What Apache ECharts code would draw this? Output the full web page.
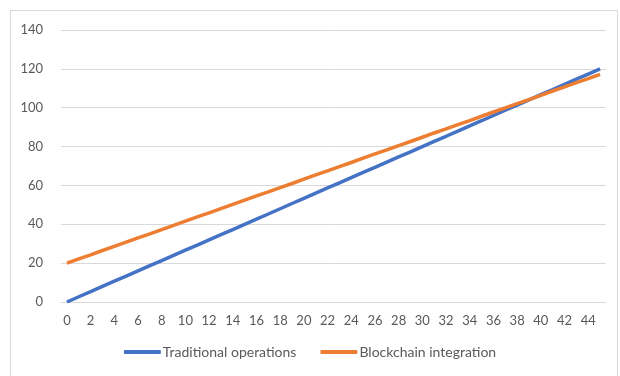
<!DOCTYPE html>
<html>
<head>
<meta charset="utf-8">
<script src="https://cdn.jsdelivr.net/npm/echarts@6/dist/echarts.min.js"></script>
<style>
  html, body { margin: 0; padding: 0; background: #fff; }
  #chart { width: 620px; height: 376px; }
</style>
</head>
<body>
<div id="chart"></div>
<script>
const categories = []
for (let i = 0; i <= 45; i++) categories.push(String(i))

const traditional = [
  0, 2.7, 5.3, 8, 10.7, 13.3, 16, 18.7, 21.3, 24,
  26.7, 29.3, 32, 34.7, 37.3, 40, 42.7, 45.3, 48, 50.7,
  53.3, 56, 58.7, 61.3, 64, 66.7, 69.3, 72, 74.7, 77.3,
  80, 82.7, 85.3, 88, 90.7, 93.3, 96, 98.7, 101.3, 104,
  106.7, 109.3, 112, 114.7, 117.3, 120,
]

const blockchain = [
  20, 22.2, 24.3, 26.5, 28.6, 30.8, 33, 35.1, 37.3, 39.4,
  41.6, 43.8, 45.9, 48.1, 50.2, 52.4, 54.6, 56.7, 58.9, 61,
  63.2, 65.4, 67.5, 69.7, 71.8, 74, 76.2, 78.3, 80.5, 82.6,
  84.8, 87, 89.1, 91.3, 93.4, 95.6, 97.8, 99.9, 102.1, 104.2,
  106.4, 108.6, 110.7, 112.9, 115, 117.2,
]

const FONT = 'Lato, "Open Sans", sans-serif'
const BLUE = '#4472c4'
const ORANGE = '#ed7d31'

const chart = echarts.init(document.getElementById('chart'))
chart.setOption({
  animation: false,
  textStyle: { fontFamily: FONT },
  graphic: [
    {
      type: 'rect',
      shape: { x: 10.5, y: 10.5, width: 607, height: 380 },
      style: { fill: 'none', stroke: '#d9d9d9', lineWidth: 1 },
      silent: true,
    },
  ],
  grid: { left: 61, right: 14, top: 30, bottom: 74 },
  legend: {
    bottom: 12,
    left: 'center',
    itemWidth: 37,
    itemHeight: 4,
    itemGap: 24,
    icon: 'roundRect',
    textStyle: {
      color: '#595959',
      fontSize: 14,
      fontFamily: FONT,
      padding: [0, 0, 0, -3],
    },
    data: ['Traditional operations', 'Blockchain integration'],
  },
  xAxis: {
    type: 'category',
    data: categories,
    boundaryGap: true,
    axisLine: { lineStyle: { color: '#d9d9d9' } },
    axisTick: { show: false },
    axisLabel: { interval: 1, color: '#595959', fontSize: 13, margin: 12 },
  },
  yAxis: {
    type: 'value',
    min: 0,
    max: 140,
    interval: 20,
    axisLine: { show: false },
    axisTick: { show: false },
    axisLabel: { color: '#595959', fontSize: 13, margin: 18 },
    splitLine: { lineStyle: { color: '#d9d9d9', width: 1 } },
  },
  series: [
    {
      name: 'Traditional operations',
      type: 'line',
      data: traditional,
      symbol: 'none',
      color: BLUE,
      lineStyle: { width: 3.5, color: BLUE },
    },
    {
      name: 'Blockchain integration',
      type: 'line',
      data: blockchain,
      symbol: 'none',
      color: ORANGE,
      lineStyle: { width: 3.5, color: ORANGE },
    },
  ],
})
</script>
</body>
</html>
